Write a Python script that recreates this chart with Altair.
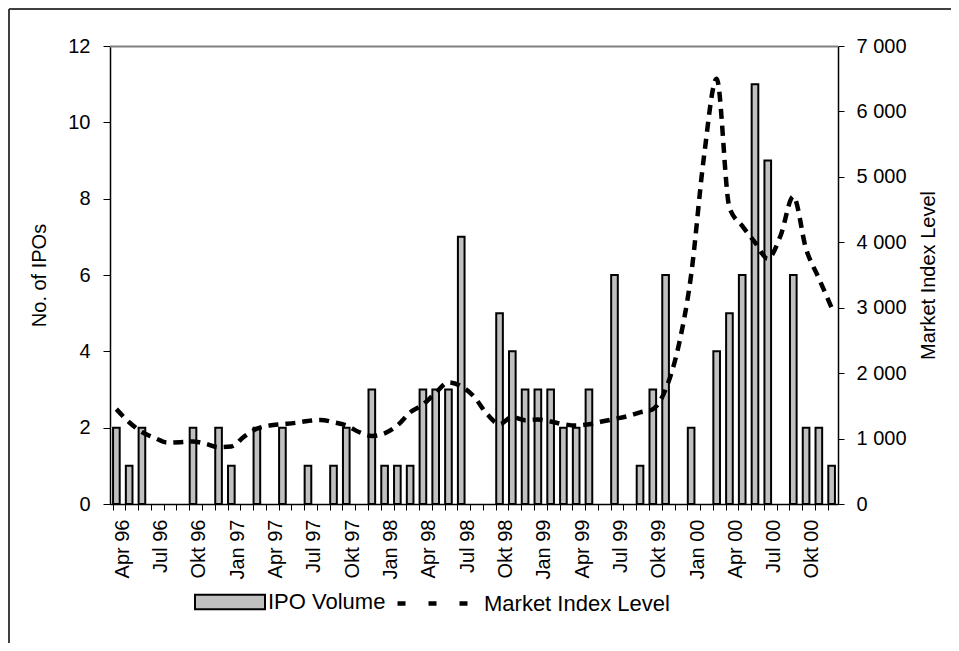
import altair as alt
import pandas as pd

month_names = ["Jan", "Feb", "Mär", "Apr", "Mai", "Jun", "Jul", "Aug", "Sep", "Okt", "Nov", "Dez"]
months = []
for yr in ["96", "97", "98", "99", "00"]:
    for m in month_names:
        months.append(f"{m} {yr}")
months = months[3:]  # Apr 96 .. Dez 00

ipo_volume = [2, 1, 2, 0, 0, 0, 2, 0, 2, 1, 0, 2,
              0, 2, 0, 1, 0, 1, 2, 0, 3, 1, 1, 1,
              3, 3, 3, 7, 0, 0, 5, 4, 3, 3, 3, 2,
              2, 3, 0, 6, 0, 1, 3, 6, 0, 2, 0, 4,
              5, 6, 11, 9, 0, 6, 2, 2, 1]

market_index = [1450, 1250, 1100, 1010, 940, 945, 955, 920, 870, 880, 1030, 1150,
                1200, 1220, 1240, 1270, 1285, 1250, 1200, 1100, 1040, 1080, 1200, 1400,
                1520, 1700, 1860, 1800, 1640, 1380, 1220, 1330, 1280, 1290, 1260, 1220,
                1200, 1220, 1260, 1300, 1340, 1400, 1450, 1750, 2400, 3500, 5300, 6500,
                4530, 4250, 4000, 3750, 4100, 4700, 3900, 3450, 3000]

shown_months = ["Jan", "Apr", "Jul", "Okt"]

df = pd.DataFrame({
    "month": months,
    "ipo": ipo_volume,
    "index": market_index,
    "s1": ["IPO Volume"] * len(months),
    "s2": ["Market Index Level"] * len(months),
})

W, H = 728, 458
PAD = {"left": 102, "top": 38, "right": 113, "bottom": 139}
FONT = "Liberation Sans"
FS = 20
LFS = 22

label_expr = "indexof(" + str(shown_months) + ", slice(datum.value, 0, 3)) >= 0 ? datum.value : ''"

x_enc = alt.X(
    "month:N",
    sort=months,
    scale=alt.Scale(paddingInner=0.48, paddingOuter=0.24),
    axis=alt.Axis(
        title=None,
        labelExpr=label_expr,
        labelAngle=-90,
        labelFontSize=FS,
        labelFont=FONT,
        labelColor="black",
        labelPadding=9,
        bandPosition=0,
        labelOffset=6.4,
        tickSize=6,
        tickColor="black",
        domainColor="black",
        domainWidth=1.5,
        tickWidth=1,
        labelOverlap=False,
        grid=False,
    ),
)

bars = alt.Chart(df).transform_filter("datum.ipo > 0").mark_bar(
    stroke="black", strokeWidth=2
).encode(
    x=x_enc,
    y=alt.Y(
        "ipo:Q",
        scale=alt.Scale(domain=[0, 12]),
        axis=alt.Axis(
            title="No. of IPOs",
            values=[0, 2, 4, 6, 8, 10, 12],
            labelFontSize=FS, labelFont=FONT, labelColor="black",
            titleFontSize=FS, titleFont=FONT, titleFontWeight="normal", titleColor="black",
            titlePadding=18, labelPadding=13, tickSize=7, tickColor="black",
            domainColor="black", domainWidth=1.5, grid=False,
        ),
    ),
    fill=alt.Fill(
        "s1:N",
        scale=alt.Scale(domain=["IPO Volume"], range=["#c0c0c0"]),
        legend=alt.Legend(
            title=None, orient="none", legendX=84, legendY=520,
            symbolType="M-1,-0.21L1,-0.21L1,0.21L-1,0.21Z",
            symbolSize=4900, symbolStrokeColor="black", symbolStrokeWidth=2,
            labelFontSize=LFS, labelFont=FONT, labelColor="black", labelOffset=2,
            labelLimit=400,
        ),
    ),
)

line = alt.Chart(df).mark_line(
    color="black", strokeWidth=4.5, interpolate="monotone", strokeCap="butt",
    strokeDash=[10, 7],
).encode(
    x=alt.X("month:N", sort=months),
    y=alt.Y(
        "index:Q",
        scale=alt.Scale(domain=[0, 7000]),
        axis=alt.Axis(
            title="Market Index Level",
            orient="right",
            values=[0, 1000, 2000, 3000, 4000, 5000, 6000, 7000],
            labelExpr="replace(format(datum.value, ','), ',', ' ')",
            labelFontSize=FS, labelFont=FONT, labelColor="black",
            titleFontSize=FS, titleFont=FONT, titleFontWeight="normal", titleColor="black",
            titleAngle=-90, titlePadding=32, labelPadding=12, tickSize=6,
            tickColor="black", domainColor="black", domainWidth=1.5, grid=False,
        ),
    ),
)

# legend-only layer for the dashed series
line_key = alt.Chart(df).mark_line(opacity=0, color="black").encode(
    x=alt.X("month:N", sort=months),
    y=alt.Y("index:Q", scale=alt.Scale(domain=[0, 7000]), axis=None),
    strokeDash=alt.StrokeDash(
        "s2:N",
        scale=alt.Scale(domain=["Market Index Level"], range=[[8, 23]]),
        legend=alt.Legend(
            title=None, orient="none", legendX=285, legendY=520,
            symbolType="stroke", symbolSize=4900, symbolStrokeWidth=4.5,
            symbolStrokeColor="black", symbolOpacity=1,
            labelFontSize=LFS, labelFont=FONT, labelColor="black", labelOffset=14,
            labelLimit=400,
        ),
    ),
)

one = pd.DataFrame({"a": [0]})
top_rule = alt.Chart(one).mark_rule(color="#808080", strokeWidth=2).encode(
    x=alt.value(0), x2=alt.value(W), y=alt.value(0.5)
)
border_top = alt.Chart(one).mark_rule(color="#404040", strokeWidth=2).encode(
    x=alt.value(-101), x2=alt.value(W + PAD["right"]), y=alt.value(-37)
)
border_left = alt.Chart(one).mark_rule(color="#404040", strokeWidth=2).encode(
    x=alt.value(-101), y=alt.value(-37), y2=alt.value(H + PAD["bottom"])
)

chart = alt.layer(bars, line, line_key, top_rule, border_top, border_left).resolve_scale(
    y="independent", fill="independent", strokeDash="independent"
).properties(
    width=W, height=H,
    autosize=alt.AutoSizeParams(type="none"),
    padding=PAD,
    background="white",
).configure_view(stroke=None)

chart.save("out.html", embed_options={"renderer": "svg", "actions": False})
